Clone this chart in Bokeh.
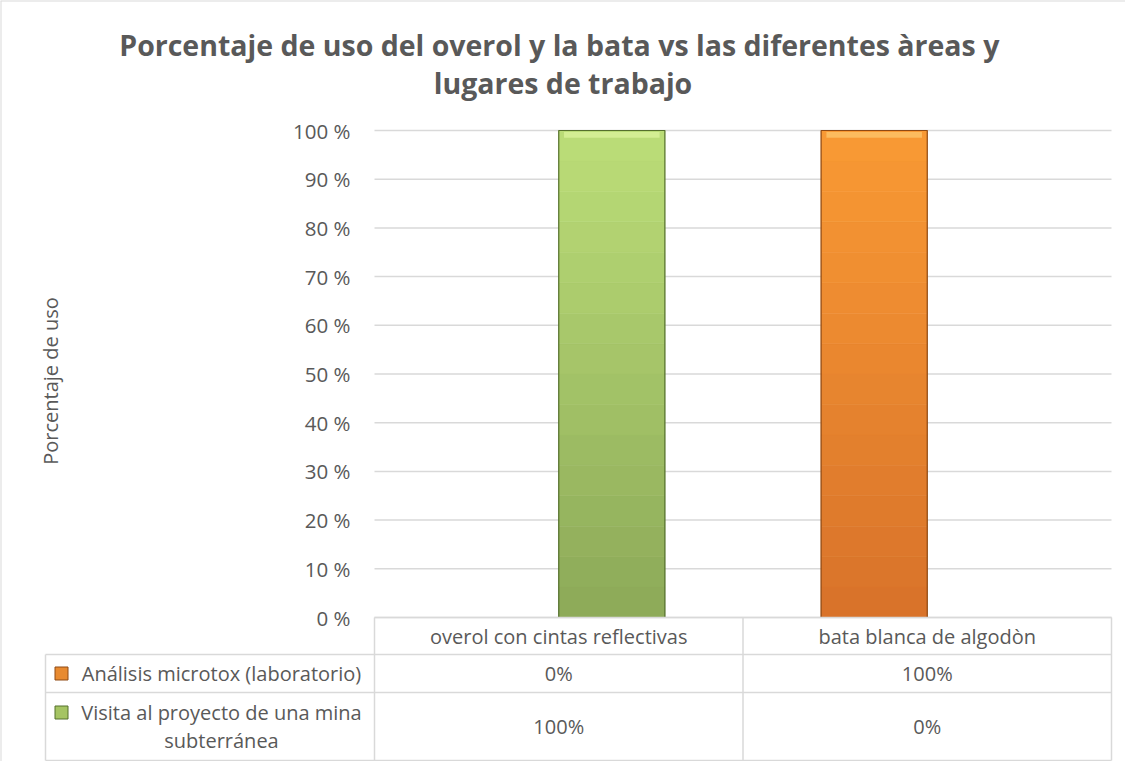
import numpy as np
from bokeh.plotting import figure
from bokeh.models import Range1d, FixedTicker, CustomJSTickFormatter, Span
from bokeh.core.properties import value
from bokeh.embed import file_html
from bokeh.resources import INLINE

# ---------------- data ----------------
categories = ["overol con cintas reflectivas", "bata blanca de algodòn"]
series_names = ["Análisis microtox (laboratorio)", "Visita al proyecto de una mina subterránea"]
series_labels = ["Análisis microtox (laboratorio)", "Visita al proyecto de una mina\nsubterránea"]
analisis = [0, 100]
visita = [100, 0]
y_ticks = [0, 10, 20, 30, 40, 50, 60, 70, 80, 90, 100]
title_text = "Porcentaje de uso del overol  y la bata vs las diferentes àreas y\nlugares de trabajo"
y_label = "Porcentaje de uso"

# ---------------- layout ----------------
W, H = 1125, 761
PX_X = 368.5          # pixels per category
PX_Y = 4.87           # pixels per percent
FX0, FY0 = 374, 617   # figure pixel of data (0, 0)
x_start, x_end = -FX0 / PX_X, (W - FX0) / PX_X
y_start, y_end = -(H - FY0) / PX_Y, FY0 / PX_Y

FONT = "Open Sans"
TXT = "#595959"
GRID = "#d9d9d9"
FS = "20px"

p = figure(width=W, height=H, x_range=Range1d(x_start, x_end), y_range=Range1d(y_start, y_end),
           output_backend="svg", toolbar_location=None, x_axis_location=None,
           y_axis_location="left", min_border=0)
p.min_border_left = p.min_border_right = p.min_border_top = p.min_border_bottom = 0
p.outline_line_color = None
p.grid.visible = False
p.background_fill_color = "white"
p.border_fill_color = "white"

ax = p.yaxis[0]
ax.fixed_location = 0
ax.ticker = FixedTicker(ticks=y_ticks)
ax.formatter = CustomJSTickFormatter(code="return tick + ' %';")
ax.axis_line_color = None
ax.major_tick_line_color = None
ax.minor_tick_line_color = None
ax.major_label_standoff = 18
ax.major_label_text_font = FONT
ax.major_label_text_font_size = "20.5px"
ax.major_label_text_color = TXT
ax.axis_label = y_label
ax.axis_label_standoff = 226
ax.axis_label_text_font = FONT
ax.axis_label_text_font_style = "normal"
ax.axis_label_text_font_size = "20px"
ax.axis_label_text_color = TXT

ncat = len(categories)
xc = np.arange(ncat) + 0.5

# gridlines
p.segment(x0=[0] * len(y_ticks), x1=[ncat] * len(y_ticks), y0=y_ticks, y1=y_ticks,
          line_color=GRID, line_width=1.5)

# bars with a vertical gradient
BW = 0.288


def mix(c1, c2, t):
    a = [int(c1[i:i + 2], 16) for i in (1, 3, 5)]
    b = [int(c2[i:i + 2], 16) for i in (1, 3, 5)]
    return "#%02x%02x%02x" % tuple(int(round(a[i] + (b[i] - a[i]) * t)) for i in range(3))


def grad_bar(xs, vals, c_bot, c_top, c_hi, edge, n=16):
    vals = np.array(vals, dtype=float)
    for k in range(n):
        col = mix(c_bot, c_top, (k + 0.5) / n)
        p.vbar(x=xs, width=BW, bottom=vals * k / n, top=vals * (k + 1) / n,
               fill_color=col, line_color=col, line_width=0.6)
    # bevel highlight at the top
    p.vbar(x=xs, width=BW * 0.9, bottom=vals * 0.985, top=vals * 0.997,
           fill_color=c_hi, line_color=None, fill_alpha=0.8)
    p.vbar(x=xs, width=BW, bottom=0, top=vals, fill_color=None, line_color=edge, line_width=1.2)


grad_bar(xc - BW / 2, analisis, "#d8722a", "#f99a34", "#fcc46a", "#8f4a14")
grad_bar(xc + BW / 2, visita, "#8ca958", "#bcde78", "#d9f29a", "#55702d")

# ---------------- data table ----------------
XL = (53 - 382) / PX_X
ry = [0, -7.6, -15.4, -29.36]
p.segment(x0=[0, XL, XL, XL], x1=[ncat] * 4, y0=ry, y1=ry, line_color=GRID, line_width=1.5)
p.segment(x0=[0, 1, 2, XL], x1=[0, 1, 2, XL], y0=[0, 0, 0, ry[1]], y1=[ry[3]] * 4,
          line_color=GRID, line_width=1.5)

ymid = [(ry[0] + ry[1]) / 2, (ry[1] + ry[2]) / 2, (ry[2] + ry[3]) / 2]
tstyle = dict(text_font=value(FONT), text_font_size=FS, text_color=TXT,
              text_align="center", text_baseline="middle")
p.text(x=xc, y=[ymid[0]] * ncat, text=categories, **tstyle)
p.text(x=xc, y=[ymid[1]] * ncat, text=[f"{v}%" for v in analisis], **tstyle)
p.text(x=xc, y=[ymid[2]] * ncat, text=[f"{v}%" for v in visita], **tstyle)

XLAB = (229 - 382) / PX_X
p.text(x=[XLAB, XLAB], y=[ymid[1], ymid[2]], text=series_labels, text_line_height=1.05, **tstyle)
XKEY = (69 - 382) / PX_X
p.scatter(x=[XKEY], y=[ymid[1]], marker="square", size=13, fill_color="#e88a30", line_color="#8f4a14")
p.scatter(x=[XKEY], y=[(625 - 720) / PX_Y], marker="square", size=13, fill_color="#a5c463", line_color="#55702d")

# ---------------- title ----------------
p.text(x=[(W / 2 - FX0) / PX_X], y=[(625 - 71.5) / PX_Y], text=[title_text],
       text_font=value(FONT), text_font_size="28.5px", text_font_style="bold", text_color=TXT,
       text_align="center", text_baseline="middle", text_line_height=0.98)

# chart border (left/top visible)
p.add_layout(Span(location=x_start, dimension="height", line_color=GRID, line_width=2))
p.add_layout(Span(location=y_end, dimension="width", line_color=GRID, line_width=2))

open("out.html", "w").write(file_html(p, INLINE))
